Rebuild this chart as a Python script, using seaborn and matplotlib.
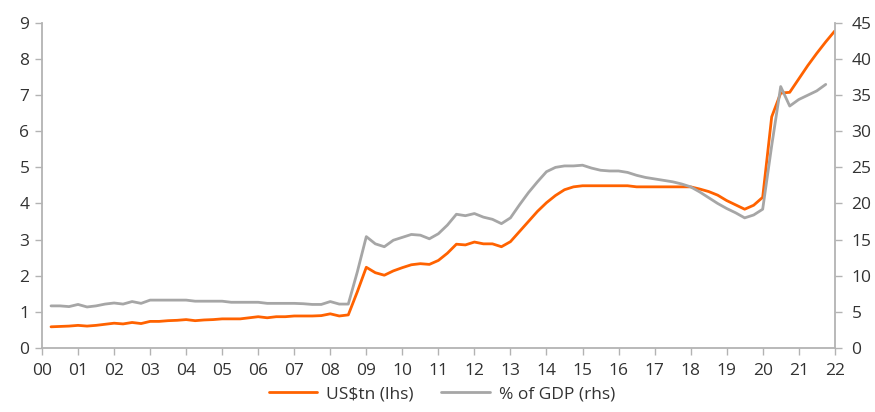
import numpy as np
import pandas as pd
import matplotlib
matplotlib.use("Agg")
import matplotlib.pyplot as plt
import seaborn as sns

# Quarterly observations, 2000Q1 .. 2021Q4
quarters = [2000.25 + 0.25 * i for i in range(88)]

usd_tn = [
    0.58, 0.59, 0.60, 0.62, 0.60, 0.62, 0.65, 0.68,
    0.66, 0.70, 0.67, 0.73, 0.73, 0.75, 0.76, 0.78,
    0.75, 0.77, 0.78, 0.80, 0.80, 0.80, 0.83, 0.86,
    0.83, 0.86, 0.86, 0.88, 0.88, 0.88, 0.89, 0.94,
    0.88, 0.91, 1.55, 2.23, 2.08, 2.01, 2.13, 2.22,
    2.30, 2.33, 2.31, 2.42, 2.62, 2.87, 2.85, 2.93,
    2.88, 2.88, 2.80, 2.94, 3.22, 3.50, 3.78, 4.02,
    4.22, 4.38, 4.46, 4.49, 4.49, 4.49, 4.49, 4.49,
    4.49, 4.46, 4.46, 4.46, 4.46, 4.46, 4.46, 4.46,
    4.40, 4.33, 4.23, 4.08, 3.96, 3.84, 3.95, 4.17,
    6.40, 7.06, 7.08, 7.45, 7.82, 8.16, 8.48, 8.78,
]

pct_gdp = [
    5.8, 5.8, 5.7, 6.0, 5.65, 5.8, 6.05, 6.2,
    6.05, 6.4, 6.15, 6.6, 6.6, 6.6, 6.6, 6.6,
    6.45, 6.45, 6.45, 6.45, 6.3, 6.3, 6.3, 6.3,
    6.15, 6.15, 6.15, 6.15, 6.1, 6.0, 6.0, 6.4,
    6.05, 6.05, 10.5, 15.4, 14.4, 14.0, 14.9, 15.3,
    15.7, 15.6, 15.1, 15.8, 17.0, 18.5, 18.3, 18.6,
    18.1, 17.8, 17.2, 18.0, 19.8, 21.5, 23.0, 24.4,
    25.0, 25.2, 25.2, 25.3, 24.9, 24.6, 24.5, 24.5,
    24.3, 23.9, 23.6, 23.4, 23.2, 23.0, 22.7, 22.3,
    21.6, 20.8, 20.0, 19.3, 18.7, 18.0, 18.4, 19.2,
    28.0, 36.2, 33.5, 34.4, 35.0, 35.6, 36.5,
]

year_ticks = list(range(2000, 2023))
year_labels = [f"{y % 100:02d}" for y in year_ticks]
left_ticks = list(range(0, 10))
right_ticks = list(range(0, 50, 5))

ORANGE = "#FF6200"
GREY = "#A6A6A6"
AXIS = "#B3B3B3"
TEXT = "#333333"

sns.set_style("white")
plt.rcParams["font.family"] = ["Open Sans", "DejaVu Sans"]

df_usd = pd.DataFrame({"date": quarters, "value": usd_tn})
df_pct = pd.DataFrame({"date": quarters[:len(pct_gdp)], "value": pct_gdp})

fig = plt.figure(figsize=(8.75, 4.12), dpi=100)
ax = fig.add_axes([0.048, 0.156, 0.906, 0.788])
ax2 = ax.twinx()

sns.lineplot(data=df_usd, x="date", y="value", ax=ax, color=ORANGE,
             linewidth=2.0, label="US$tn (lhs)", legend=False)
sns.lineplot(data=df_pct, x="date", y="value", ax=ax2, color=GREY,
             linewidth=2.0, label="% of GDP (rhs)", legend=False)

ax.set_xlim(2000, 2022)
ax.set_ylim(0, 9)
ax2.set_ylim(0, 45)
ax.set_xticks(year_ticks)
ax.set_xticklabels(year_labels)
ax.set_yticks(left_ticks)
ax2.set_yticks(right_ticks)
ax.set_xlabel("")
ax.set_ylabel("")
ax2.set_ylabel("")

for a in (ax, ax2):
    for side in ("top",):
        a.spines[side].set_visible(False)
    for side in ("left", "right", "bottom"):
        a.spines[side].set_color(AXIS)
        a.spines[side].set_linewidth(1.3)
    a.tick_params(axis="both", which="major", direction="out", length=5,
                  width=1.0, color=AXIS, labelsize=12.5, labelcolor=TEXT, pad=4)
    a.grid(False)

ax.tick_params(axis="y", left=True, right=False)
ax.tick_params(axis="x", bottom=True, pad=6)
ax2.tick_params(axis="y", right=True, left=False, pad=7)
ax2.spines["left"].set_visible(False)
ax2.spines["bottom"].set_visible(False)
ax.spines["right"].set_visible(False)

h1, l1 = ax.get_legend_handles_labels()
h2, l2 = ax2.get_legend_handles_labels()
fig.legend(h1 + h2, l1 + l2, loc="lower center", bbox_to_anchor=(0.505, -0.015),
           ncol=2, frameon=False, fontsize=12.5, handlelength=2.8,
           columnspacing=1.6, handletextpad=0.5, labelcolor=TEXT)

fig.savefig("out.png", dpi=100)
